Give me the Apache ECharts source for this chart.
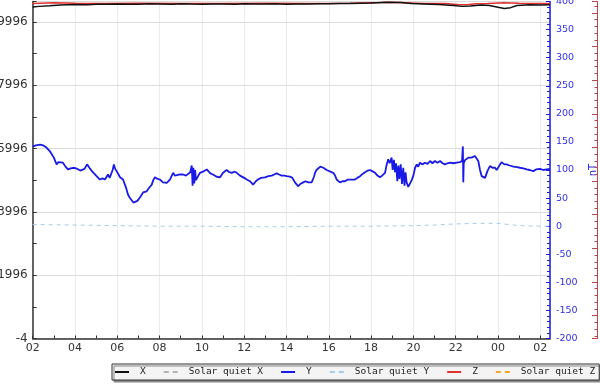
<!DOCTYPE html>
<html>
<head>
<meta charset="utf-8">
<script src="https://cdn.jsdelivr.net/npm/echarts@6/dist/echarts.min.js"></script>
<style>html,body{margin:0;padding:0;background:#fff;}#chart{width:600px;height:388px;}</style>
</head>
<body>
<div id="chart"></div>
<script>
// Hours since 02:00 on the x axis; tick labels every 2 hours
var hourLabels = ['02','04','06','08','10','12','14','16','18','20','22','00','02'];

// X component (left axis)
var xTimes = [0,0.3,0.8,1.3,2.0,2.6,3.0,3.5,4.0,4.6,5.0,5.5,6.0,6.6,7.0,7.5,8.0,8.5,9.0,9.6,10.0,10.5,11.0,11.5,12.0,12.5,13.0,13.6,14.0,14.5,15.0,15.5,16.0,16.5,16.8,17.1,17.4,17.9,18.5,19.2,19.9,20.3,20.7,21.2,21.6,22.0,22.3,22.6,22.9,23.5,24.0,24.46];
var xValues = [10471,10490,10510,10535,10550,10545,10560,10555,10566,10560,10560,10570,10566,10560,10570,10562,10560,10568,10566,10558,10570,10566,10566,10575,10560,10566,10566,10572,10570,10578,10580,10590,10600,10612,10620,10615,10610,10580,10566,10550,10520,10490,10505,10530,10520,10460,10420,10450,10520,10540,10535,10540];

// Solar quiet X (not visible in the picture)
var sqxTimes = [];
var sqxValues = [];

// Y component (right axis, nT)
var yTimes = [0.00,0.15,0.35,0.49,0.65,0.82,1.00,1.13,1.22,1.29,1.43,1.55,1.67,1.80,1.91,2.05,2.14,2.25,2.33,2.45,2.57,2.68,2.80,3.00,3.18,3.30,3.42,3.56,3.64,3.70,3.78,3.84,3.90,3.97,4.13,4.27,4.40,4.51,4.60,4.68,4.76,4.84,4.95,5.07,5.22,5.39,5.50,5.63,5.70,5.78,5.90,6.02,6.16,6.25,6.34,6.49,6.64,6.72,6.81,6.96,7.11,7.25,7.34,7.45,7.52,7.56,7.60,7.64,7.68,7.72,7.82,7.91,8.05,8.23,8.40,8.52,8.70,8.86,9.00,9.17,9.30,9.41,9.55,9.65,9.80,9.88,10.00,10.12,10.27,10.42,10.55,10.65,10.80,10.98,11.15,11.30,11.42,11.54,11.65,11.77,11.90,12.01,12.15,12.25,12.32,12.40,12.48,12.56,12.65,12.79,12.90,13.03,13.19,13.30,13.35,13.42,13.50,13.60,13.66,13.74,13.82,13.90,13.98,14.21,14.30,14.37,14.53,14.65,14.77,14.90,15.00,15.24,15.35,15.48,15.60,15.71,15.85,15.95,16.05,16.19,16.30,16.42,16.52,16.66,16.74,16.81,16.88,16.97,17.02,17.08,17.13,17.18,17.24,17.29,17.34,17.40,17.46,17.52,17.58,17.63,17.68,17.76,17.84,17.92,18.00,18.08,18.16,18.23,18.31,18.42,18.55,18.67,18.79,18.90,19.02,19.14,19.26,19.38,19.49,19.61,19.73,19.90,20.05,20.20,20.30,20.34,20.36,20.38,20.45,20.60,20.75,20.91,21.00,21.07,21.15,21.23,21.39,21.50,21.62,21.74,21.86,21.94,22.01,22.10,22.17,22.30,22.41,22.55,22.73,22.90,23.04,23.20,23.36,23.50,23.67,23.80,23.99,24.15,24.30,24.46];
var yValues = [142,144,145,144,140,133,122,110,114,116,113,106,101,103,104,103,102,99,96,102,110,104,98,90,83,85,83,92,86,83,100,110,102,98,87,83,70,56,50,47,42,40,45,51,60,62,68,74,82,87,84,83,78,80,77,83,95,90,89,92,92,90,92,96,108,72,104,76,100,82,89,95,97,101,94,92,88,87,95,100,96,95,97,95,90,89,86,83,80,74,80,83,86,87,89,90,92,94,92,90,90,89,88,87,83,78,75,71,75,78,80,78,78,88,95,100,98,106,108,104,104,100,98,95,90,83,78,80,80,83,83,83,86,89,93,96,99,100,98,95,90,87,90,95,110,119,112,122,100,118,96,112,80,108,84,110,75,104,72,96,78,70,72,82,90,104,110,106,113,110,113,111,116,112,116,113,116,112,110,112,113,112,113,114,116,142,78,112,118,122,122,125,122,116,100,89,86,98,107,104,104,100,98,110,114,110,110,108,106,105,104,103,101,100,98,101,102,100,101,102];

// Solar quiet Y (right axis, nT)
var sqyTimes = [0,2,4,6,8,10,12,14,16,18,19,20,21,22,22.5,23,24,24.46];
var sqyValues = [3,2,1,0,0,-1,-1,0,0,1,2,4,5,5,3,1,0,0];

// Z component (far right axis)
var zTimes = [0,1,2,3.5,5,7,9,11,13,15,16.5,17,17.6,18.5,19.5,20.2,20.6,21,21.5,22.3,23,24,24.46];
var zValues = [44464,44465,44464.5,44464,44464.5,44464,44464,44464.5,44464,44464.5,44465.5,44466,44465,44464,44464,44462,44462.5,44463.5,44464,44465,44464.5,44464,44464];

// Solar quiet Z (not visible in the picture)
var sqzTimes = [];
var sqzValues = [];

function zip(t, v){ var out=[]; for(var i=0;i<t.length;i++){ out.push([t[i], v[i]]); } return out; }

var chart = echarts.init(document.getElementById('chart'), null, {renderer:'canvas'});
var axisFont = 'DejaVu Sans';
var blue = '#1a1ae6';
var solidIcon = 'path://M0 0H14V2H0Z';
var dashIcon = 'path://M0 0H5V2H0Z M9 0H14V2H9Z';
function plainNum(v){ return String(Math.round(v)); }

chart.setOption({
  animation: false,
  backgroundColor: '#ffffff',
  grid: {left: 32.7, right: 50, top: 1.5, bottom: 49.5, containLabel: false, outerBoundsMode: 'none'},
  legend: {
    left: 112, top: 364, width: 520,
    orient: 'horizontal',
    padding: [3,4,3,3],
    itemWidth: 14, itemHeight: 12, itemGap: 18,
    backgroundColor: '#f4f4f4', borderColor: '#333', borderWidth: 1,
    shadowColor: '#888', shadowOffsetX: 2, shadowOffsetY: 2, shadowBlur: 0,
    textStyle: {fontFamily: 'DejaVu Sans Mono', fontSize: 9.5, color: '#222', padding: [0,0,0,6]},
    data: [
      {name: 'X', icon: solidIcon},
      {name: 'Solar quiet X', icon: dashIcon},
      {name: 'Y', icon: solidIcon},
      {name: 'Solar quiet Y', icon: dashIcon},
      {name: 'Z', icon: solidIcon},
      {name: 'Solar quiet Z', icon: dashIcon}
    ]
  },
  xAxis: [
    {
      type: 'value', min: 0, max: 24.46, interval: 1,
      axisLine: {show: true, onZero: false, lineStyle: {color: '#333', width: 1.5}},
      axisTick: {show: true, inside: true, length: 3, lineStyle: {color: '#333'}},
      axisLabel: {
        color: '#333', fontFamily: axisFont, fontSize: 11, margin: 4, showMaxLabel: false, hideOverlap: false,
        formatter: function(v){ var r = Math.round(v); if (Math.abs(v-r) < 1e-6 && r % 2 === 0) { return hourLabels[r/2] || ''; } return ''; }
      },
      splitLine: {show: false}
    },
    {
      type: 'value', min: 0, max: 24.46, interval: 2, position: 'bottom',
      axisLine: {show: false}, axisTick: {show: false}, axisLabel: {show: false},
      splitLine: {show: true, lineStyle: {color: '#d8d8d8', type: 'dotted', width: 1}}
    }
  ],
  yAxis: [
    {
      type: 'value', position: 'left', min: -4, max: 10644, interval: 2000,
      axisLine: {show: true, onZero: false, lineStyle: {color: '#333', width: 1.5}},
      axisTick: {show: true, inside: true, length: 4, lineStyle: {color: '#333'}},
      minorTick: {show: true, splitNumber: 2, length: 4, lineStyle: {color: '#333'}},
      axisLabel: {color: '#333', fontFamily: axisFont, fontSize: 12, margin: 5, showMaxLabel: false, formatter: plainNum},
      splitLine: {show: true, lineStyle: {color: '#dcdcdc', width: 1}}
    },
    {
      type: 'value', position: 'right', min: -200, max: 400, interval: 50,
      name: 'nT', nameLocation: 'middle', nameGap: 26,
      nameTextStyle: {color: blue, fontFamily: axisFont, fontSize: 10},
      axisLine: {show: true, onZero: false, lineStyle: {color: blue, width: 1.5}},
      axisTick: {show: true, inside: true, length: 4, lineStyle: {color: blue}},
      minorTick: {show: true, splitNumber: 5, length: 3, lineStyle: {color: blue}},
      axisLabel: {color: '#3030e8', fontFamily: axisFont, fontSize: 9.5, margin: 6, formatter: plainNum},
      splitLine: {show: false}
    },
    {
      type: 'value', position: 'right', offset: 47, min: 43966, max: 44467, splitNumber: 10,
      axisLine: {show: true, onZero: false, lineStyle: {color: '#b84848', width: 1}},
      axisTick: {show: true, inside: true, length: 5, lineStyle: {color: '#b84848'}},
      minorTick: {show: true, splitNumber: 5, length: 2.5, lineStyle: {color: '#b84848'}},
      axisLabel: {color: '#b84848', fontFamily: axisFont, fontSize: 9.5, margin: 6, formatter: plainNum},
      splitLine: {show: false}
    }
  ],
  series: [
    {name: 'X', type: 'line', xAxisIndex: 0, yAxisIndex: 0, symbol: 'none', data: zip(xTimes, xValues),
     lineStyle: {color: '#111', width: 1.5}, itemStyle: {color: '#111'}, z: 4},
    {name: 'Solar quiet X', type: 'line', xAxisIndex: 0, yAxisIndex: 0, symbol: 'none', data: zip(sqxTimes, sqxValues),
     lineStyle: {color: '#b4b4b4', width: 1.5, type: [4,4]}, itemStyle: {color: '#b4b4b4'}},
    {name: 'Y', type: 'line', xAxisIndex: 0, yAxisIndex: 1, symbol: 'none', data: zip(yTimes, yValues),
     lineStyle: {color: blue, width: 1.8}, itemStyle: {color: blue}, z: 5},
    {name: 'Solar quiet Y', type: 'line', xAxisIndex: 0, yAxisIndex: 1, symbol: 'none', data: zip(sqyTimes, sqyValues),
     lineStyle: {color: '#a6cde8', width: 1, type: [4,4]}, itemStyle: {color: '#a6cde8'}},
    {name: 'Z', type: 'line', xAxisIndex: 0, yAxisIndex: 2, symbol: 'none', data: zip(zTimes, zValues),
     lineStyle: {color: '#e03030', width: 1.5}, itemStyle: {color: '#e03030'}, z: 3},
    {name: 'Solar quiet Z', type: 'line', xAxisIndex: 0, yAxisIndex: 2, symbol: 'none', data: zip(sqzTimes, sqzValues),
     lineStyle: {color: '#f0a830', width: 1.5, type: [4,4]}, itemStyle: {color: '#f0a830'}}
  ]
});
</script>
</body>
</html>
